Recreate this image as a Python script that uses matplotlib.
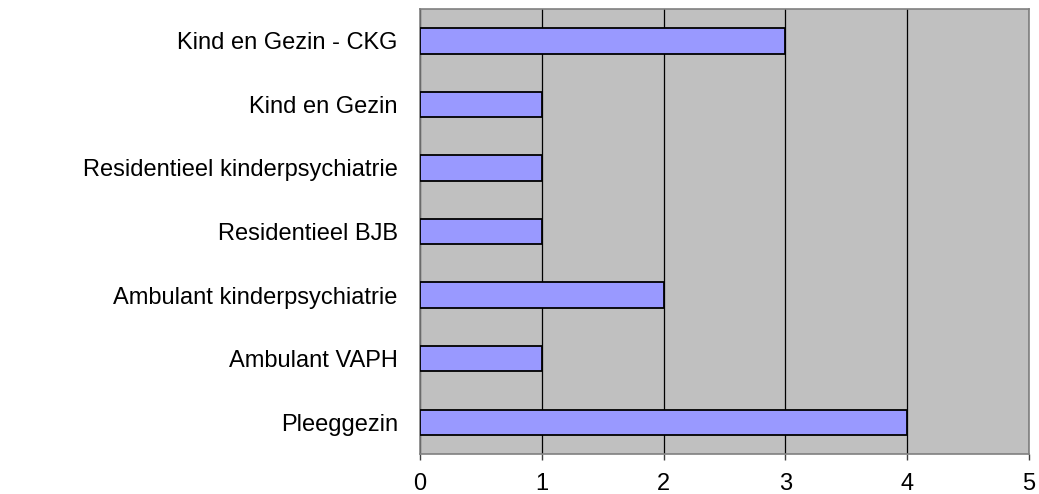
import matplotlib
matplotlib.use("Agg")
import matplotlib.pyplot as plt

# categories from top to bottom as shown in the chart
categories = [
    "Kind en Gezin - CKG",
    "Kind en Gezin",
    "Residentieel kinderpsychiatrie",
    "Residentieel BJB",
    "Ambulant kinderpsychiatrie",
    "Ambulant VAPH",
    "Pleeggezin",
]
counts = [3, 1, 1, 1, 2, 1, 4]
x_ticks = [0, 1, 2, 3, 4, 5]

plt.rcParams['font.family'] = ['Liberation Sans', 'DejaVu Sans']

fig = plt.figure(figsize=(10.39, 4.94), dpi=100)
ax = fig.add_axes([420 / 1039, 1 - 454 / 494, 609 / 1039, 445 / 494])
ax.set_facecolor('#c0c0c0')

pos = list(range(len(categories)))[::-1]
ax.barh(pos, counts, height=0.4, color='#9999ff', edgecolor='black', linewidth=1.3, zorder=3)

ax.set_xlim(0, 5)
ax.set_ylim(-0.5, len(categories) - 0.5)
ax.set_xticks(x_ticks)
ax.set_xticklabels([str(t) for t in x_ticks])
ax.set_yticks(pos)
ax.set_yticklabels(categories)

ax.grid(axis='x', color='black', linewidth=0.9, zorder=1)
ax.set_axisbelow(True)

for s in ax.spines.values():
    s.set_color('#808080')
    s.set_linewidth(1.2)

ax.tick_params(axis='x', length=4.5, width=1, color='#404040', direction='out', labelsize=17, pad=9)
ax.tick_params(axis='y', length=0, labelsize=17, pad=16)

fig.savefig('out.png', dpi=100)
